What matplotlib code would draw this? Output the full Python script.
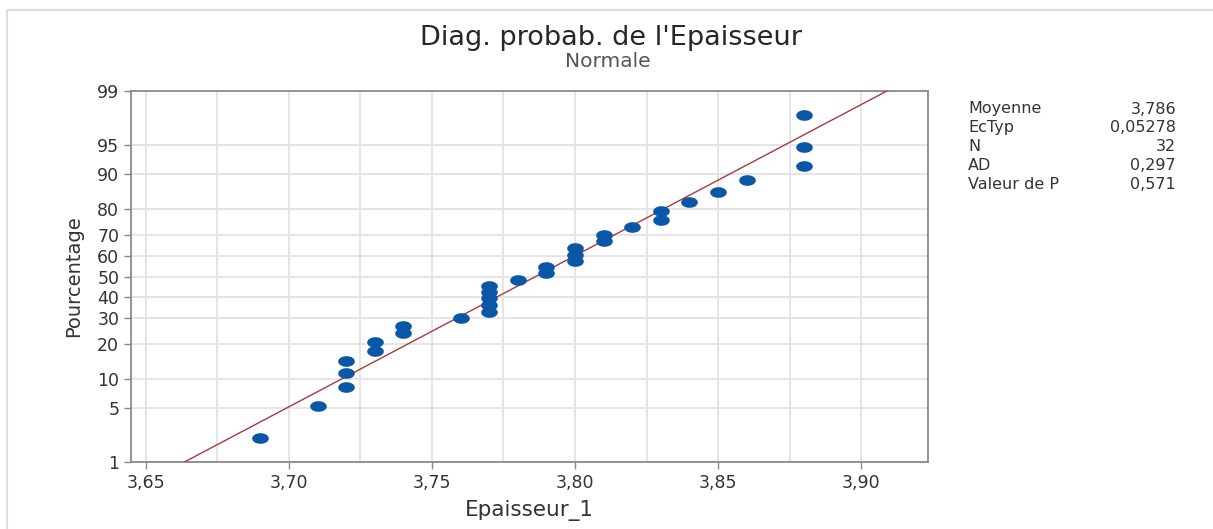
import numpy as np
import matplotlib
matplotlib.use('Agg')
import matplotlib.pyplot as plt
from matplotlib.lines import Line2D
from statistics import NormalDist

# data (Epaisseur_1 values, n = 32)
epaisseur = [3.69, 3.71, 3.72, 3.72, 3.72, 3.73, 3.73, 3.74, 3.74, 3.76,
             3.77, 3.77, 3.77, 3.77, 3.77, 3.78, 3.79, 3.79, 3.80, 3.80,
             3.80, 3.81, 3.81, 3.82, 3.83, 3.83, 3.84, 3.85, 3.86, 3.88,
             3.88, 3.88]
stat_names = ['Moyenne', 'EcTyp', 'N', 'AD', 'Valeur de P']
stat_values = ['3,786', '0,05278', '32', '0,297', '0,571']
x_ticks = [3.65, 3.70, 3.75, 3.80, 3.85, 3.90]
y_ticks = [1, 5, 10, 20, 30, 40, 50, 60, 70, 80, 90, 95, 99]

plt.rcParams['font.family'] = ['DejaVu Sans']

nd = NormalDist()
_ppf = np.vectorize(lambda p: nd.inv_cdf(min(max(p / 100.0, 1e-9), 1 - 1e-9)),
                    otypes=[float])
_cdf = np.vectorize(lambda z: nd.cdf(z) * 100.0, otypes=[float])


def fwd(p):
    return _ppf(np.asarray(p, dtype=float))


def inv(z):
    return _cdf(np.asarray(z, dtype=float))


x = np.sort(np.array(epaisseur))
n = len(x)
ranks = np.arange(1, n + 1)
pct = (ranks - 0.3) / (n + 0.4) * 100   # median ranks (Benard)
mu = x.mean()
sd = x.std(ddof=1)

fig = plt.figure(figsize=(12.13, 5.29), dpi=100)
ax = fig.add_axes([131 / 1213, 67 / 529, 797 / 1213, 371 / 529])
ax.set_yscale('function', functions=(fwd, inv))

# fitted line
p_line = np.array([0.5, 1, 50, 99, 99.5])
x_line = mu + sd * fwd(p_line)
ax.plot(x_line, p_line, color='#a83a3a', lw=1.0, zorder=3)

# points
t = np.linspace(0, 2 * np.pi, 30)
ell = np.column_stack([np.cos(t), 0.64 * np.sin(t)])
ax.plot(x, pct, linestyle='none', marker=ell, markersize=12,
        color='#0a57a8', markeredgewidth=0, zorder=4)

ax.set_xlim(3.6448, 3.9234)
ax.set_ylim(1, 99)
ax.set_xticks(x_ticks)
ax.set_xticklabels([('%.2f' % v).replace('.', ',') for v in x_ticks])
ax.set_xticks(np.arange(3.675, 3.91, 0.05), minor=True)
ax.set_yticks(y_ticks)
ax.set_yticklabels([str(v) for v in y_ticks])
ax.yaxis.set_minor_locator(matplotlib.ticker.NullLocator())

ax.grid(True, which='both', color='#e3e3e3', lw=1.3, zorder=0)
ax.set_axisbelow(True)
ax.tick_params(which='major', direction='out', length=5, width=1,
               color='#8a8a8a', labelsize=12.5, labelcolor='#333333')
ax.tick_params(which='minor', length=0)
for s in ax.spines.values():
    s.set_color('#8a8a8a')
    s.set_linewidth(1.3)

ax.set_xlabel('Epaisseur_1', fontsize=15.5, color='#333333', labelpad=6)
ax.set_ylabel('Pourcentage', fontsize=14, color='#333333', labelpad=10)

fig.text(0.504, 0.928, "Diag. probab. de l'Epaisseur", ha='center',
         va='center', fontsize=19.5, color='#262626')
fig.text(0.501, 0.883, 'Normale', ha='center', va='center',
         fontsize=14.5, color='#555555')

# stats table
for i, (nm, val) in enumerate(zip(stat_names, stat_values)):
    yy = 1 - (109 + 18.8 * i) / 529
    fig.text(968 / 1213, yy, nm, ha='left', va='center', fontsize=11.5,
             color='#333333')
    fig.text(1176 / 1213, yy, val, ha='right', va='center', fontsize=11.5,
             color='#333333')

# frame around the graph window
fig.add_artist(Line2D([7 / 1213, 1], [1 - 10 / 529, 1 - 10 / 529],
                      color='#dddddd', lw=1.5))
fig.add_artist(Line2D([7 / 1213, 7 / 1213], [0, 1 - 10 / 529],
                      color='#dddddd', lw=1.5))

fig.savefig('out.png', dpi=100)
